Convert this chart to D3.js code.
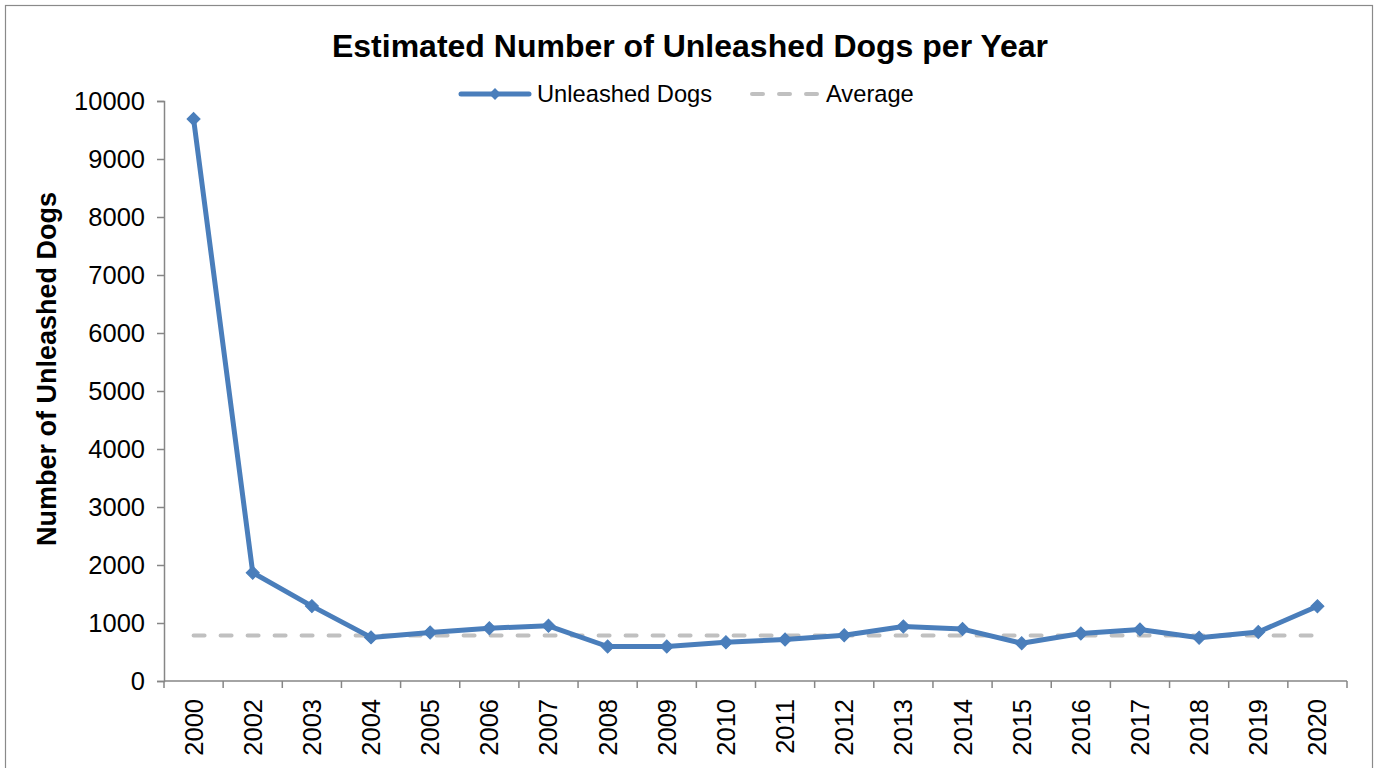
<!DOCTYPE html>
<html>
<head>
<meta charset="utf-8">
<script src="https://cdn.jsdelivr.net/npm/d3@7"></script>
<style>
  html, body { margin: 0; padding: 0; background: #fff; }
  svg { display: block; font-family: "Liberation Sans", Arial, sans-serif; }
</style>
</head>
<body>
<svg id="chart" width="1382" height="768"></svg>
<script>
// Survey years and the estimated count of unleashed dogs in each
const years = ["2000","2002","2003","2004","2005","2006","2007","2008","2009","2010",
               "2011","2012","2013","2014","2015","2016","2017","2018","2019","2020"];
const unleashedDogs = [9690, 1868, 1291, 752, 835, 910, 952, 595, 595, 668,
                       715, 788, 940, 895, 652, 818, 888, 745, 845, 1290];
// Long-run average level, drawn as a flat reference line
const averageValue = 785;
const yTicks = [0,1000,2000,3000,4000,5000,6000,7000,8000,9000,10000];

const svg = d3.select("#chart");
const plotLeft = 164, plotRight = 1347, plotTop = 101, plotBottom = 681;

const axisColor = "#868686";
const lineColor = "#4a7ebb";
const avgColor = "#c0c0c0";

// Outer chart frame
svg.append("rect")
  .attr("x", 5.5).attr("y", 5.5)
  .attr("width", 1367).attr("height", 800)
  .attr("fill", "#fff").attr("stroke", "#8a8a8a").attr("stroke-width", 1.2);

const x = d3.scaleBand().domain(years).range([plotLeft, plotRight]).padding(0);
const y = d3.scaleLinear().domain([0, 10000]).range([plotBottom, plotTop]);
const cx = d => x(d) + x.bandwidth() / 2;

// Y axis
const yAxis = svg.append("g")
  .attr("transform", `translate(${plotLeft},0)`)
  .call(d3.axisLeft(y).tickValues(yTicks).tickSize(7).tickPadding(12).tickFormat(d3.format("d")));
yAxis.select(".domain").attr("stroke", axisColor).attr("stroke-width", 1.5);
yAxis.selectAll(".tick line").attr("stroke", axisColor).attr("stroke-width", 1.5);
yAxis.selectAll(".tick text")
  .attr("font-size", 25.5).attr("fill", "#000")
  .attr("font-family", "'Liberation Sans', Arial, sans-serif");

// X axis: ticks between categories, labels rotated
const xg = svg.append("g").attr("transform", `translate(0,${plotBottom})`);
xg.append("line")
  .attr("x1", plotLeft).attr("x2", plotRight).attr("y1", 0).attr("y2", 0)
  .attr("stroke", axisColor).attr("stroke-width", 1.5);
const boundaries = years.map(d => x(d)).concat([x(years[years.length - 1]) + x.bandwidth()]);
xg.selectAll("line.tk").data(boundaries).join("line")
  .attr("class", "tk")
  .attr("x1", d => d).attr("x2", d => d)
  .attr("y1", 0).attr("y2", 7)
  .attr("stroke", axisColor).attr("stroke-width", 1.5);
xg.selectAll("text").data(years).join("text")
  .attr("transform", d => `translate(${cx(d)},18) rotate(-90)`)
  .attr("text-anchor", "end")
  .attr("dominant-baseline", "central")
  .attr("font-size", 25.5)
  .attr("fill", "#000")
  .text(d => d);

// Average reference line
const avgLine = d3.line().x(d => cx(d)).y(() => y(averageValue));
svg.append("path")
  .datum(years)
  .attr("d", avgLine)
  .attr("fill", "none")
  .attr("stroke", avgColor)
  .attr("stroke-width", 4)
  .attr("stroke-linecap", "round")
  .attr("stroke-dasharray", "11 16");

// Unleashed dogs series
const series = years.map((yr, i) => ({ yr, v: unleashedDogs[i] }));
svg.append("path")
  .datum(series)
  .attr("d", d3.line().x(d => cx(d.yr)).y(d => y(d.v)))
  .attr("fill", "none")
  .attr("stroke", lineColor)
  .attr("stroke-width", 5)
  .attr("stroke-linejoin", "round");

svg.selectAll("path.mk").data(series).join("path")
  .attr("class", "mk")
  .attr("transform", d => `translate(${cx(d.yr)},${y(d.v)}) rotate(45)`)
  .attr("d", d3.symbol().type(d3.symbolSquare).size(85))
  .attr("fill", lineColor)
  .attr("stroke", lineColor)
  .attr("stroke-width", 1);

// Title
svg.append("text")
  .attr("x", 690).attr("y", 57)
  .attr("text-anchor", "middle")
  .attr("font-size", 32).attr("font-weight", "bold")
  .attr("fill", "#000")
  .text("Estimated Number of Unleashed Dogs per Year");

// Y axis title
svg.append("text")
  .attr("transform", "translate(56,369) rotate(-90)")
  .attr("text-anchor", "middle")
  .attr("font-size", 27).attr("font-weight", "bold")
  .attr("fill", "#000")
  .text("Number of Unleashed Dogs");

// Legend
const legend = svg.append("g");
const ly = 94;
legend.append("line")
  .attr("x1", 461).attr("x2", 529).attr("y1", ly).attr("y2", ly)
  .attr("stroke", lineColor).attr("stroke-width", 5).attr("stroke-linecap", "round");
legend.append("path")
  .attr("transform", `translate(495,${ly}) rotate(45)`)
  .attr("d", d3.symbol().type(d3.symbolSquare).size(70))
  .attr("fill", lineColor);
legend.append("text")
  .attr("x", 537).attr("y", ly)
  .attr("dominant-baseline", "central")
  .attr("font-size", 23.7).attr("fill", "#000")
  .text("Unleashed Dogs");
legend.append("line")
  .attr("x1", 752).attr("x2", 818).attr("y1", ly).attr("y2", ly)
  .attr("stroke", avgColor).attr("stroke-width", 4)
  .attr("stroke-linecap", "round").attr("stroke-dasharray", "11 16");
legend.append("text")
  .attr("x", 826).attr("y", ly)
  .attr("dominant-baseline", "central")
  .attr("font-size", 23.7).attr("fill", "#000")
  .text("Average");
</script>
</body>
</html>
